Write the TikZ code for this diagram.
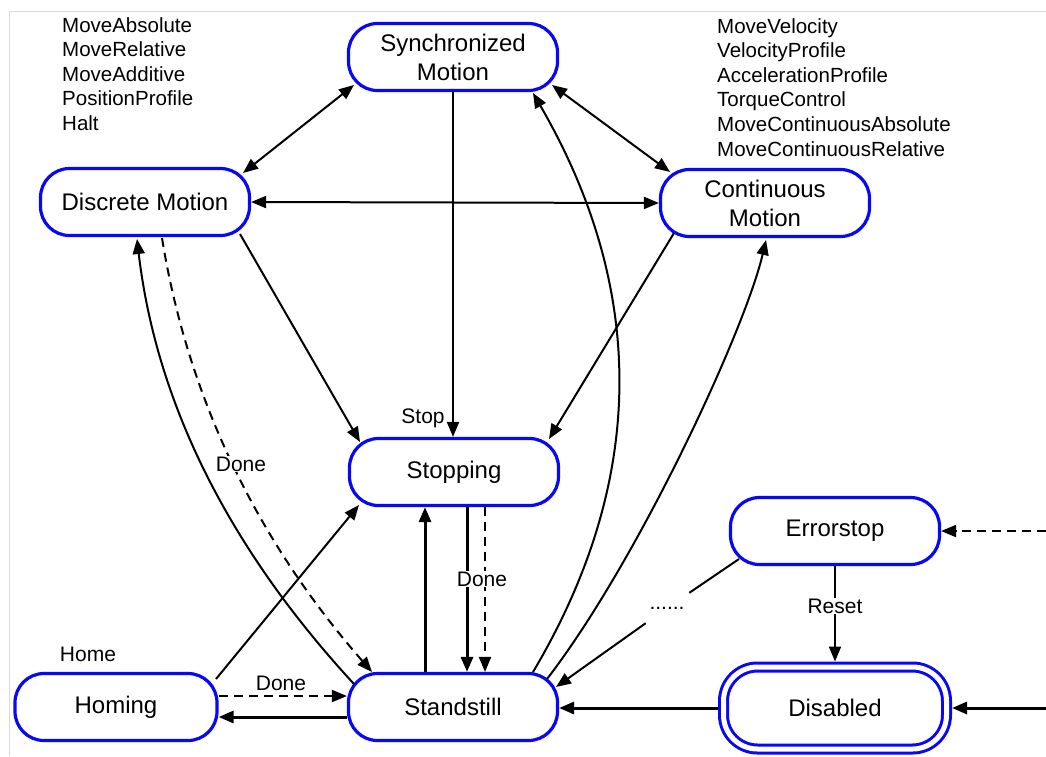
\documentclass[tikz,border=0pt]{standalone}
\usepackage{fontspec}
\setmainfont{Liberation Sans}
\usetikzlibrary{arrows.meta}
\definecolor{stateblue}{RGB}{8,8,245}
\definecolor{framegray}{RGB}{218,218,218}
\newcommand\statefont{\fontsize{24}{29}\selectfont}
\newcommand\listfont{\fontsize{20.5}{24.6}\selectfont}
\newcommand\lblfont{\fontsize{21}{25}\selectfont}
\begin{document}
\begin{tikzpicture}[x=1pt,y=-1pt,
  >={Triangle[length=15pt,width=12pt]},
  state/.style={draw=stateblue, line width=3.2pt, rounded corners=29pt,
    minimum width=209pt, minimum height=67pt, align=center,
    font=\statefont, inner sep=0pt},
  dblstate/.style={draw=stateblue, line width=3pt, double=white,
    double distance=5pt, rounded corners=34pt, minimum width=223pt,
    minimum height=82pt, outer sep=5.5pt, font=\statefont, inner sep=0pt},
  conn/.style={line width=2pt, ->},
  bothconn/.style={line width=2pt, <->},
  heavyconn/.style={line width=3pt, ->},
  dashconn/.style={line width=2pt, ->, dash pattern=on 9pt off 6pt},
  lbl/.style={font=\lblfont, inner sep=1pt, anchor=base},
  cutlbl/.style={lbl, fill=white},
  listtext/.style={font=\listfont, align=left, inner sep=0pt, anchor=north west}
]
\useasboundingbox (0,0) rectangle (1046,756);
\fill[white] (0,0) rectangle (1046,756);
% page frame
\draw[framegray, line width=1pt] (9,756) -- (9,11) -- (1046,11);

% states
\node[state] (sync)  at (453,57)  {Synchronized\\Motion};
\node[state] (disc)  at (145,202) {Discrete Motion};
\node[state] (cont)  at (765,203) {Continuous\\Motion};
\node[state] (stopp) at (454,472) {Stopping};
\node[state] (err)   at (835,531) {Errorstop};
\node[dblstate] (dis) at (835,708) {Disabled};
\node[state, minimum width=202pt] (hom) at (116,707) {Homing};
\node[state] (still) at (453,707) {Standstill};

% function block lists
\node[listtext] (poslist) at (62,17)
  {MoveAbsolute\\MoveRelative\\MoveAdditive\\PositionProfile\\Halt};
\node[listtext] (vellist) at (717,18)
  {MoveVelocity\\VelocityProfile\\AccelerationProfile\\TorqueControl\\MoveContinuousAbsolute\\MoveContinuousRelative};

% free ends of the incoming transitions
\coordinate (errin) at (1046,531);
\coordinate (disin) at (1046,708);

% transitions between the motion states
\draw[bothconn] ([shift={(-99,28)}]sync.center) -- ([shift={(98,-29)}]disc.center);
\draw[bothconn] ([shift={(99,28)}]sync.center) -- ([shift={(-95,-31)}]cont.center);
\draw[bothconn] (disc.east) -- (cont.west);

% into Stopping
\draw[conn] (sync.south) -- (sync.south |- stopp.north);
\draw[conn] ([shift={(95,32)}]disc.center) -- ([shift={(-94,-30)}]stopp.center);
\draw[conn] ([shift={(-91,30)}]cont.center) -- ([shift={(95,-33)}]stopp.center);
\draw[conn] ([shift={(100,-28)}]hom.center) -- ([shift={(-95,33)}]stopp.center);

% Standstill <-> Stopping
\draw[heavyconn] ([xshift=-28pt]still.north) -- ([xshift=-28pt]still.north |- stopp.south);
\draw[heavyconn] ([xshift=13pt]stopp.south) -- ([xshift=13pt]stopp.south |- still.north);
\draw[dashconn]  ([xshift=31pt]stopp.south) -- ([xshift=31pt]stopp.south |- still.north);

% Standstill to the motion states
\draw[conn] ([shift={(80,-35)}]still.center) .. controls +(114,-192) and +(114,197) .. ([shift={(80,36)}]sync.center);
\draw[conn] ([shift={(94,-28)}]still.center) .. controls +(91,-118) and +(-21,90) .. ([shift={(1,37)}]cont.center);
\draw[conn] ([shift={(-99,-23)}]still.center) .. controls +(-120,-130) and +(20,170) .. ([shift={(-8,37)}]disc.center);
\draw[dashconn] ([shift={(17,36)}]disc.center) .. controls +(25,155) and +(-118,-135) .. ([shift={(-81,-35)}]still.center);

% Homing <-> Standstill
\draw[dashconn] ([shift={(0,-11)}]hom.east) -- ([shift={(0,-11)}]hom.east -| still.west);
\draw[heavyconn] ([shift={(0,10)}]still.west) -- ([shift={(0,10)}]still.west -| hom.east);

% error handling
\node[font=\lblfont, minimum width=46pt, minimum height=30pt, inner sep=0pt] (dots) at (667,608) {......};
\draw[line width=2pt] ([shift={(-96,28)}]err.center) -- (dots);
\draw[conn] (dots) -- ([shift={(103,-20)}]still.center);
\draw[conn] (err.south) -- (dis.north);
\draw[heavyconn] (dis.west) -- (dis.west -| still.east);
\draw[dashconn] (errin) -- (err.east);
\draw[heavyconn] (disin) -- (dis.east);

% transition labels
\node[lbl] (stoplbl) at (423,423) {Stop};
\node[lbl] (homelbl) at (88,661) {Home};
\node[lbl] (donehom) at (281,690) {Done};
\node[cutlbl] (donedisc) at (241,471) {Done};
\node[cutlbl] (donestop) at (482,586) {Done};
\node[cutlbl] (resetlbl) at (835,613) {Reset};
\end{tikzpicture}
\end{document}
